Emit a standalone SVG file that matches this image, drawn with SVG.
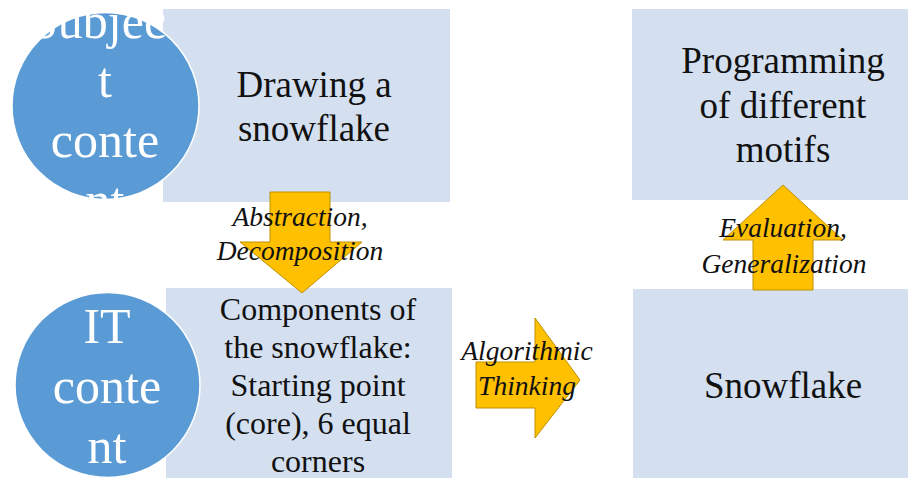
<svg xmlns="http://www.w3.org/2000/svg" width="908" height="478" viewBox="0 0 908 478">
<style>
.box{fill:#D4E0F0;}
.circ{fill:#5B9BD5;stroke:#FFFFFF;stroke-width:1.5;}
.arrow{fill:#FFC000;stroke:#BF9000;stroke-width:1;}
.ct{font-family:"Liberation Serif","Times New Roman",serif;font-size:50px;fill:#FFFFFF;text-anchor:middle;}
.bt{font-family:"Liberation Serif","Times New Roman",serif;font-size:37px;fill:#111111;text-anchor:middle;}
.st{font-family:"Liberation Serif","Times New Roman",serif;font-size:32px;fill:#111111;text-anchor:middle;}
.lt{font-family:"Liberation Serif","Times New Roman",serif;font-size:27.5px;font-style:italic;fill:#111111;text-anchor:middle;}
</style>
<defs>
<clipPath id="subjClip"><rect x="40" y="14" width="126" height="186"/></clipPath>
</defs>
<rect width="908" height="478" fill="#FFFFFF"/>
<g id="drawing">
<rect class="box" x="163" y="9" width="287" height="193"/>
<text class="bt" x="314" y="97">Drawing a</text>
<text class="bt" x="314" y="141">snowflake</text>
</g>
<g id="components">
<rect class="box" x="166" y="288" width="286" height="190"/>
<text class="st" x="318" y="320">Components of</text>
<text class="st" x="318" y="358">the snowflake:</text>
<text class="st" x="318" y="396">Starting point</text>
<text class="st" x="318" y="434">(core), 6 equal</text>
<text class="st" x="318" y="472">corners</text>
</g>
<g id="programming">
<rect class="box" x="632" y="9" width="276" height="191"/>
<text class="bt" x="783" y="73">Programming</text>
<text class="bt" x="783" y="118">of different</text>
<text class="bt" x="783" y="162">motifs</text>
</g>
<g id="snowflake">
<rect class="box" x="633" y="289" width="275" height="189"/>
<text class="bt" x="783" y="398">Snowflake</text>
</g>
<g id="subject-content">
<circle class="circ" cx="105.5" cy="106" r="93.5"/>
<g clip-path="url(#subjClip)">
<text class="ct" x="105" y="38">Subject</text>
<text class="ct" x="105" y="97">t</text>
<text class="ct" x="105" y="157">conte</text>
<text class="ct" x="105" y="217">nt</text>
</g>
</g>
<g id="it-content">
<circle class="circ" cx="107.5" cy="385" r="92.5"/>
<text class="ct" x="107" y="343">IT</text>
<text class="ct" x="107" y="403">conte</text>
<text class="ct" x="107" y="463">nt</text>
</g>
<g id="connectors">
<g id="abstraction">
<path class="arrow" d="M270,192 H330 V242 H362 L302,293 L240,242 H270 Z"/>
<text class="lt" x="300" y="226">Abstraction,</text>
<text class="lt" x="300" y="260">Decomposition</text>
</g>
<g id="algorithmic">
<path class="arrow" d="M476,362 H535 V318 L580,380 L535,438 V408 H476 Z"/>
<text class="lt" x="527" y="360">Algorithmic</text>
<text class="lt" x="527" y="395">Thinking</text>
</g>
<g id="evaluation">
<path class="arrow" d="M753,290 V240 H723 L783,185 L843,240 H813 V290 Z"/>
<text class="lt" x="783" y="237">Evaluation,</text>
<text class="lt" x="784" y="273">Generalization</text>
</g>
</g>
</svg>
